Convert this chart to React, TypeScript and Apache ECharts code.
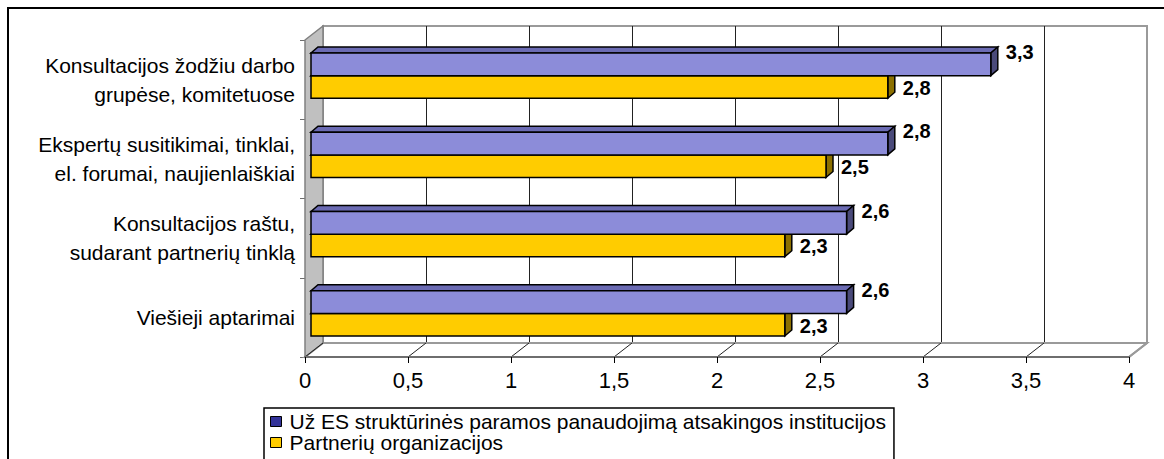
import React, { useEffect, useRef } from "react";
import * as echarts from "echarts";

const categories = [
  "Konsultacijos žodžiu darbo\ngrupėse, komitetuose",
  "Ekspertų susitikimai, tinklai,\nel. forumai, naujienlaiškiai",
  "Konsultacijos raštu,\nsudarant partnerių tinklą",
  "Viešieji aptarimai",
];
const seriesNames = [
  "Už ES struktūrinės paramos panaudojimą atsakingos institucijos",
  "Partnerių organizacijos",
];
const institutionValues = [3.3, 2.8, 2.6, 2.6];
const partnerValues = [2.8, 2.5, 2.3, 2.3];
const xTicks = [0, 0.5, 1, 1.5, 2, 2.5, 3, 3.5, 4];

const FONT = '"Liberation Sans", Arial, sans-serif';
const WALL_DX = 18;
const WALL_DY = -14;
const PLANE_DX = 6;
const PLANE_DY = -4;
const BAR_DX = 7;
const BAR_DY = -6;

const fmt = (v: number) => v.toFixed(1).replace(".", ",");

function barRenderer(slot: number, front: string, top: string, side: string) {
  return (params: any, api: any) => {
    const v = api.value(0);
    const ci = api.value(1);
    const p0 = api.coord([0, ci]);
    const p1 = api.coord([v, ci]);
    const bandH = api.size([0, 1])[1];
    const barH = bandH * 0.285;
    const cy = p0[1] + PLANE_DY;
    const x0 = p0[0] + PLANE_DX;
    const x1 = p1[0] + PLANE_DX;
    const yTop = cy - barH + slot * barH;
    const yBot = yTop + barH;
    const labelY = slot === 0 ? yTop - 1 : yTop + barH / 2 + 1;
    return {
      type: "group",
      children: [
        {
          type: "polygon",
          shape: {
            points: [
              [x0, yTop],
              [x1, yTop],
              [x1 + BAR_DX, yTop + BAR_DY],
              [x0 + BAR_DX, yTop + BAR_DY],
            ],
          },
          style: { fill: top, stroke: "#000", lineWidth: 1.5 },
        },
        {
          type: "polygon",
          shape: {
            points: [
              [x1, yTop],
              [x1 + BAR_DX, yTop + BAR_DY],
              [x1 + BAR_DX, yBot + BAR_DY],
              [x1, yBot],
            ],
          },
          style: { fill: side, stroke: "#000", lineWidth: 1.5 },
        },
        {
          type: "rect",
          shape: { x: x0, y: yTop, width: x1 - x0, height: barH },
          style: { fill: front, stroke: "#000", lineWidth: 1.5 },
        },
        {
          type: "text",
          style: {
            text: fmt(v),
            x: x1 + 15,
            y: labelY,
            fill: "#000",
            fontSize: 20,
            fontWeight: "bold",
            fontFamily: FONT,
            align: "left",
            verticalAlign: "middle",
          },
        },
      ],
    };
  };
}

export default function App() {
  const ref = useRef<HTMLDivElement>(null);
  useEffect(() => {
    if (!ref.current) return;
    const chart = echarts.init(ref.current, null, { renderer: "svg" });
    const option: any = {
      animation: false,
      backgroundColor: "#fff",
      textStyle: { fontFamily: FONT },
      graphic: [
        {
          type: "rect",
          x: 8,
          y: 8,
          shape: { x: 0, y: 0, width: 1400, height: 700 },
          style: { fill: "none", stroke: "#000", lineWidth: 2 },
          silent: true,
          z: 100,
        },
      ],
      grid: [
        { left: 305, top: 40, width: 824, height: 317 },
        {
          left: 323,
          top: 26,
          width: 824,
          height: 317,
          show: true,
          backgroundColor: "#fff",
          borderColor: "#9a9a9a",
          borderWidth: 2,
        },
      ],
      xAxis: [
        {
          type: "value",
          gridIndex: 0,
          min: 0,
          max: 4,
          interval: 0.5,
          axisLine: { show: true, lineStyle: { color: "#6e6e6e", width: 2 } },
          axisTick: { show: true, length: 6, lineStyle: { color: "#000" } },
          splitLine: { show: false },
          axisLabel: {
            formatter: (v: number) => String(v).replace(".", ","),
            fontSize: 22,
            color: "#000",
            fontFamily: FONT,
            margin: 12,
          },
          z: 5,
        },
        {
          type: "value",
          gridIndex: 1,
          min: 0,
          max: 4,
          interval: 0.5,
          axisLine: { show: false },
          axisTick: { show: false },
          axisLabel: { show: false },
          splitLine: {
            show: true,
            lineStyle: {
              color: ["#9a9a9a", "#222", "#222", "#222", "#222", "#222", "#222", "#222", "#9a9a9a"],
              width: 1,
            },
          },
        },
      ],
      yAxis: [
        {
          type: "category",
          gridIndex: 0,
          inverse: true,
          data: categories,
          axisLine: { show: false },
          axisTick: { show: true, length: 5, lineStyle: { color: "#6e6e6e" } },
          axisLabel: {
            fontSize: 21,
            lineHeight: 29,
            color: "#000",
            fontFamily: FONT,
            align: "right",
            margin: 10,
          },
        },
        {
          type: "category",
          gridIndex: 1,
          inverse: true,
          data: categories,
          show: false,
        },
      ],
      legend: {
        orient: "vertical",
        left: 264,
        top: 408,
        height: 120,
        padding: [3, 8, 40, 6],
        itemGap: 0,
        itemWidth: 11,
        itemHeight: 10,
        icon: "rect",
        borderColor: "#000",
        borderWidth: 1.5,
        selectedMode: false,
        textStyle: {
          fontSize: 21,
          lineHeight: 21,
          color: "#000",
          fontFamily: FONT,
          padding: [0, 0, 0, 3],
        },
        data: [
          {
            name: seriesNames[0],
            itemStyle: { color: "#333399", borderColor: "#000", borderWidth: 1 },
          },
          {
            name: seriesNames[1],
            itemStyle: { color: "#ffcc00", borderColor: "#000", borderWidth: 1 },
          },
        ],
      },
      series: [
        {
          type: "custom",
          name: "frame",
          xAxisIndex: 0,
          yAxisIndex: 0,
          z: 1,
          silent: true,
          data: xTicks.map((t) => [t, 0]),
          encode: { x: 0, y: 1 },
          renderItem: (params: any, api: any) => {
            const cs = params.coordSys;
            const gx = cs.x;
            const gy = cs.y;
            const gw = cs.width;
            const gb = cs.y + cs.height;
            const tx = api.coord([api.value(0), 0])[0];
            const children: any[] = [];
            if (params.dataIndex === 0) {
              children.push({
                type: "polygon",
                shape: {
                  points: [
                    [gx, gb],
                    [gx + WALL_DX, gb + WALL_DY],
                    [gx + gw + WALL_DX, gb + WALL_DY],
                    [gx + gw, gb],
                  ],
                },
                style: { fill: "#fff", stroke: "#9a9a9a", lineWidth: 2 },
              });
              children.push({
                type: "polygon",
                shape: {
                  points: [
                    [gx, gy],
                    [gx + WALL_DX, gy + WALL_DY],
                    [gx + WALL_DX, gb + WALL_DY],
                    [gx, gb],
                  ],
                },
                style: { fill: "#c0c0c0", stroke: "#808080", lineWidth: 1.5 },
              });
            }
            const last = params.dataIndex === xTicks.length - 1;
            children.push({
              type: "line",
              shape: { x1: tx, y1: gb, x2: tx + WALL_DX, y2: gb + WALL_DY },
              style: { stroke: last ? "#9a9a9a" : "#222", lineWidth: last ? 2 : 1 },
            });
            return { type: "group", children };
          },
        },
        {
          type: "custom",
          name: seriesNames[1],
          xAxisIndex: 0,
          yAxisIndex: 0,
          z: 2,
          itemStyle: { color: "#ffcc00" },
          data: partnerValues.map((v, i) => [v, i]),
          encode: { x: 0, y: 1 },
          renderItem: barRenderer(1, "#ffcc00", "#c8a000", "#8c7000"),
        },
        {
          type: "custom",
          name: seriesNames[0],
          xAxisIndex: 0,
          yAxisIndex: 0,
          z: 3,
          itemStyle: { color: "#333399" },
          data: institutionValues.map((v, i) => [v, i]),
          encode: { x: 0, y: 1 },
          renderItem: barRenderer(0, "#8c8cd9", "#6b6bb3", "#4a4a7a"),
        },
      ],
    };
    chart.setOption(option);
    return () => chart.dispose();
  }, []);
  return (
    <div
      ref={ref}
      style={{ position: "fixed", left: 0, top: 0, width: 1164, height: 459 }}
    />
  );
}
